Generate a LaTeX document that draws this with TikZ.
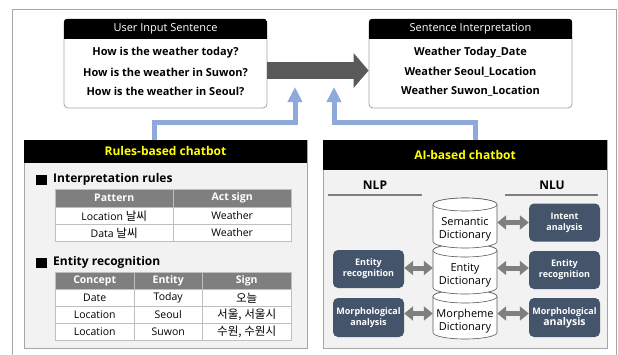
\documentclass[tikz,border=0pt]{standalone}
\usepackage{fontspec}
\setmainfont{Open Sans}
\newfontfamily\krfont[Scale=1.1]{Noto Sans CJK KR}
\usetikzlibrary{arrows.meta,calc}

\definecolor{frameGray}{HTML}{A6A6A6}
\definecolor{panelBg}{HTML}{F2F2F2}
\definecolor{thGray}{HTML}{7F7F7F}
\definecolor{gridGray}{HTML}{BFBFBF}
\definecolor{slate}{HTML}{44546A}
\definecolor{flowBlue}{HTML}{8EAADB}
\definecolor{arrowDark}{HTML}{595959}
\definecolor{arrowMid}{HTML}{7F7F7F}
\definecolor{hlYellow}{HTML}{FFFF00}
\definecolor{cylEdge}{HTML}{595959}

\tikzset{
  sentbox/.style={draw=frameGray, line width=0.8pt, fill=white, rounded corners=4pt,
    minimum width=203pt, minimum height=89pt, inner sep=0pt},
  headbar/.style={fill=black, text=white, font=\fontsize{11}{13}\selectfont,
    minimum height=20pt, inner sep=0pt},
  sentline/.style={font=\bfseries\fontsize{11}{13}\selectfont, inner sep=0pt},
  panel/.style={draw=frameGray, fill=panelBg, line width=0.8pt, inner sep=0pt},
  panelhead/.style={fill=black, text=hlYellow, font=\bfseries\fontsize{12}{14}\selectfont, inner sep=0pt},
  bullet/.style={fill=black, minimum size=10.5pt, inner sep=0pt},
  section/.style={font=\bfseries\fontsize{12}{14}\selectfont, anchor=west, inner sep=0pt},
  thcell/.style={fill=thGray, draw=gridGray, text=white, font=\bfseries\fontsize{10.5}{12}\selectfont, inner sep=0pt},
  tdcell/.style={fill=white, draw=gridGray, font=\fontsize{10.5}{12}\selectfont, inner sep=0pt},
  sidelabel/.style={font=\bfseries\fontsize{12}{14}\selectfont, inner sep=0pt},
  sideline/.style={draw=arrowMid, line width=1.2pt},
  cylline/.style={draw=cylEdge, line width=0.6pt, fill=white},
  cyltext/.style={font=\fontsize{11}{13.5}\selectfont, align=center, inner sep=0pt},
  slatebox/.style={fill=slate, rounded corners=5pt, text=white, align=center,
    font=\bfseries\fontsize{9}{11}\selectfont, minimum width=71pt, minimum height=38pt, inner sep=0pt},
  flow/.style={draw=flowBlue, line width=5pt, -{Triangle[width=14pt,length=15pt]}},
  bigarrow/.style={draw=arrowDark, line width=17pt, -{Triangle[width=34pt,length=15pt]}},
  dbl/.style={draw=arrowMid, line width=5pt, {Triangle[width=14pt,length=9pt]}-{Triangle[width=14pt,length=9pt]}}
}

% table cell: name, x, y (top left), width, height, style, text
\newcommand\tcell[7]{\node[#6, minimum width=#4pt, minimum height=#5pt, anchor=north west] (#1) at (#2,#3) {#7};}

% dictionary cylinder: name, centre x, top y, bottom y, text
\newcommand\dictcyl[5]{%
  \path[cylline] (#2-32,#3+6.5) -- (#2-32,#4-6.5)
    arc[start angle=180, end angle=360, x radius=32pt, y radius=6.5pt]
    -- (#2+32,#3+6.5)
    arc[start angle=0, end angle=180, x radius=32pt, y radius=6.5pt] -- cycle;
  \draw[cylline] (#2,#3+6.5) ellipse[x radius=32pt, y radius=6.5pt];
  \node[cyltext, minimum width=64pt, minimum height=#4-#3-13 pt] (#1) at (#2,{(#3+13+#4)/2}) {#5};
}

\begin{document}
\begin{tikzpicture}[x=1pt,y=-1pt]
\useasboundingbox (0,0) rectangle (618,354);
\fill[white] (0,0) rectangle (618,354);
\draw[frameGray, line width=0.7pt] (12,9) rectangle (616,380);

% ---- sentence boxes ----
\node[sentbox] (ubox) at (165.5,63.5) {};
\begin{scope}
  \clip[rounded corners=4pt] (ubox.north west) rectangle (ubox.south east);
  \node[headbar, minimum width=203pt, anchor=north] (uhead) at (ubox.north) {User Input Sentence};
\end{scope}
\node[sentline] (u1) at (165.5,53) {How is the weather today?};
\node[sentline] (u2) at (165.5,72) {How is the weather in Suwon?};
\node[sentline] (u3) at (165.5,91) {How is the weather in Seoul?};

\node[sentbox] (ibox) at (470.5,63.5) {};
\begin{scope}
  \clip[rounded corners=4pt] (ibox.north west) rectangle (ibox.south east);
  \node[headbar, minimum width=203pt, anchor=north] (ihead) at (ibox.north) {Sentence Interpretation};
\end{scope}
\node[sentline] (i1) at (470.5,53) {Weather Today\_Date};
\node[sentline] (i2) at (470.5,72) {Weather Seoul\_Location};
\node[sentline] (i3) at (470.5,91) {Weather Suwon\_Location};

\draw[bigarrow] ([yshift=-7pt]ubox.east) -- ([yshift=-7pt]ibox.west);

% ---- panels ----
\node[panel, minimum width=283pt, minimum height=208pt] (rpanel) at (165.5,244) {};
\node[panelhead, minimum width=283pt, minimum height=23pt, anchor=north] (rhead) at (rpanel.north) {Rules-based chatbot};
\node[panel, minimum width=284pt, minimum height=208pt] (apanel) at (465,244) {};
\node[panelhead, minimum width=284pt, minimum height=30pt, anchor=north] (ahead) at (apanel.north) {AI-based chatbot};

% ---- feedback connectors ----
\coordinate (rOut) at (154,140);
\coordinate (rTip) at (295,87);
\coordinate (aOut) at (475,140);
\coordinate (aTip) at (334,87);
\draw[flow] (rOut) |- ($(rTip)+(0,35)$) -- (rTip);
\draw[flow] (aOut) |- ($(aTip)+(0,35)$) -- (aTip);

% ---- rules-based content ----
\node[bullet] (sq1) at (41.5,180) {};
\node[section] (sec1) at (53,179) {Interpretation rules};
\tcell{pa}{55}{189}{118}{18}{thcell}{Pattern}
\tcell{pb}{173}{189}{118}{18}{thcell}{Act sign}
\tcell{pc}{55}{207}{118}{17}{tdcell}{Location {\krfont 날씨}}
\tcell{pd}{173}{207}{118}{17}{tdcell}{Weather}
\tcell{pe}{55}{224}{118}{17}{tdcell}{Data {\krfont 날씨}}
\tcell{pf}{173}{224}{118}{17}{tdcell}{Weather}

\node[bullet] (sq2) at (41.5,263) {};
\node[section] (sec2) at (53,262) {Entity recognition};
\tcell{ea}{55}{272}{79}{17}{thcell}{Concept}
\tcell{eb}{134}{272}{68}{17}{thcell}{Entity}
\tcell{ec}{202}{272}{89}{17}{thcell}{Sign}
\tcell{ed}{55}{289}{79}{17}{tdcell}{Date}
\tcell{ee}{134}{289}{68}{17}{tdcell}{Today}
\tcell{ef}{202}{289}{89}{17}{tdcell}{\krfont 오늘}
\tcell{eg}{55}{306}{79}{17}{tdcell}{Location}
\tcell{eh}{134}{306}{68}{17}{tdcell}{Seoul}
\tcell{ei}{202}{306}{89}{17}{tdcell}{\krfont 서울, 서울시}
\tcell{ej}{55}{323}{79}{17}{tdcell}{Location}
\tcell{ek}{134}{323}{68}{17}{tdcell}{Suwon}
\tcell{el}{202}{323}{89}{17}{tdcell}{\krfont 수원, 수원시}

% ---- AI-based content ----
\node[sidelabel] (nlp) at (375,185) {NLP};
\draw[sideline] (328,195) -- (422,195);
\node[sidelabel] (nlu) at (552,185) {NLU};
\draw[sideline] (505,195) -- (598,195);

\dictcyl{mor}{465}{290}{339}{Morpheme\\Dictionary}
\dictcyl{ent}{465}{244}{294}{Entity\\Dictionary}
\dictcyl{sem}{465}{198}{248}{Semantic\\Dictionary}

\node[slatebox] (intent) at (564.5,222.5) {Intent\\analysis};
\node[slatebox] (entR) at (564.5,270) {Entity\\recognition};
\node[slatebox, minimum height=39pt] (morR) at (564.5,317.5) {Morphological\\{\fontsize{10.5}{12}\selectfont analysis}};
\node[slatebox] (entL) at (368.5,269) {Entity\\recognition};
\node[slatebox, minimum height=39pt] (morL) at (368.5,317.5) {Morphological\\analysis};

\draw[dbl] (intent.west -| sem.east) -- (intent.west);
\draw[dbl] ([yshift=2pt]entR.west -| ent.east) -- ([yshift=2pt]entR.west);
\draw[dbl] ([yshift=4pt]morR.west -| mor.east) -- ([yshift=4pt]morR.west);
\draw[dbl] ([yshift=1pt]entL.east) -- ([yshift=1pt]entL.east -| ent.west);
\draw[dbl] ([yshift=4pt]morL.east) -- ([yshift=4pt]morL.east -| mor.west);
\end{tikzpicture}
\end{document}
